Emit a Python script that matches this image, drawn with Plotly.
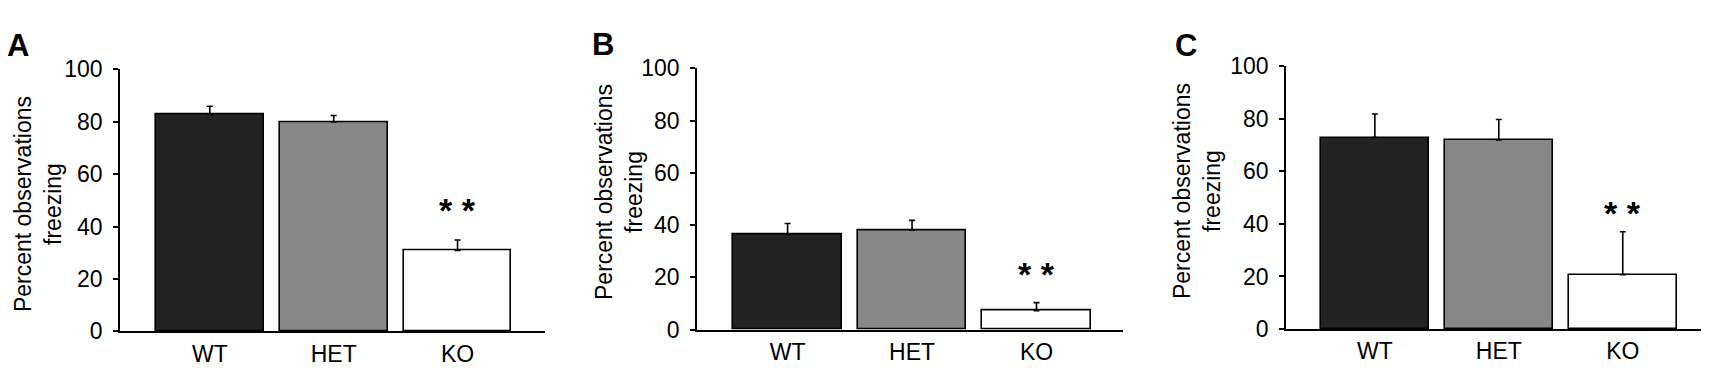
import plotly.graph_objects as go

categories = ["WT", "HET", "KO"]
panel_letters = ["A", "B", "C"]

means_a = [83.0, 79.9, 30.9]
err_a = [2.9, 2.5, 4.0]
means_b = [36.6, 38.0, 7.2]
err_b = [4.0, 3.8, 3.1]
means_c = [72.8, 71.9, 20.7]
err_c = [9.0, 7.8, 16.3]

sig_label = "* *"
sig_y = [46.2, 21.2, 44.0]

y_ticks = [0, 20, 40, 60, 80, 100]
y_title = "Percent observations<br>freezing"

bar_colors = ["#232323", "#878787", "#ffffff"]
FONT = "Liberation Sans, Arial, sans-serif"
W, H = 1709, 368

# pixel layout of each panel
panels = [
    dict(x0=112, x1=537, yt=52, yb=334, xr=[-0.725, 2.706], tx=30, ty=197, lx=13, lsh=-3, ly=5),
    dict(x0=689, x1=1115, yt=51, yb=332, xr=[-0.728, 2.695], tx=611, ty=184, lx=595, lsh=0, ly=4),
    dict(x0=1278, x1=1704, yt=48.5, yb=331.5, xr=[-0.717, 2.72], tx=1189, ty=183, lx=1178, lsh=0, ly=5),
]
series = [(means_a, err_a), (means_b, err_b), (means_c, err_c)]

fig = go.Figure()
annotations = []
for i, (p, (m, e)) in enumerate(zip(panels, series)):
    n = "" if i == 0 else str(i + 1)
    fig.add_trace(go.Bar(
        x=categories, y=m,
        xaxis="x" + n, yaxis="y" + n,
        width=0.87,
        marker=dict(color=bar_colors, line=dict(color="black", width=1.6)),
        error_y=dict(type="data", array=e, arrayminus=[0] * len(e), symmetric=False,
                     color="black", thickness=1.6, width=3),
        showlegend=False,
    ))
    xa = dict(
        domain=[p["x0"] / W, p["x1"] / W], anchor="y" + n,
        type="category", range=p["xr"],
        showline=True, linecolor="black", linewidth=1.6,
        ticks="", showgrid=False, zeroline=False,
        tickfont=dict(family=FONT, size=23, color="black"),
        ticklabelstandoff=1,
    )
    ya = dict(
        domain=[1 - p["yb"] / H, 1 - p["yt"] / H], anchor="x" + n,
        range=[0, 100], tickvals=y_ticks,
        showline=True, linecolor="black", linewidth=1.6,
        ticks="outside", ticklen=5, tickwidth=1.6, tickcolor="black",
        showgrid=False, zeroline=False,
        tickfont=dict(family=FONT, size=23, color="black"),
        ticklabelstandoff=6,
    )
    fig.layout["xaxis" + n] = xa
    fig.layout["yaxis" + n] = ya
    annotations.append(dict(
        x=categories[2], y=sig_y[i], xref="x" + n, yref="y" + n,
        text=sig_label, showarrow=False, yanchor="middle", yshift=0,
        font=dict(family=FONT, size=34, color="black", weight="bold"),
    ))
    annotations.append(dict(
        x=p["tx"] / W, y=1 - p["ty"] / H, xref="paper", yref="paper",
        text=y_title, showarrow=False, textangle=-90,
        xanchor="center", yanchor="middle",
        font=dict(family=FONT, size=23, color="black"),
    ))
    annotations.append(dict(
        x=p["lx"] / W, y=1 - p["ly"] / H, xref="paper", yref="paper",
        text="<b>" + panel_letters[i] + "</b>", showarrow=False,
        xanchor="center", yanchor="top", xshift=p["lsh"],
        font=dict(family=FONT, size=31, color="black"),
    ))

fig.update_layout(
    width=W, height=H, autosize=False,
    margin=dict(l=0, r=0, t=0, b=0),
    paper_bgcolor="white", plot_bgcolor="white",
    annotations=annotations, bargap=0,
)
fig.write_html("out.html")
